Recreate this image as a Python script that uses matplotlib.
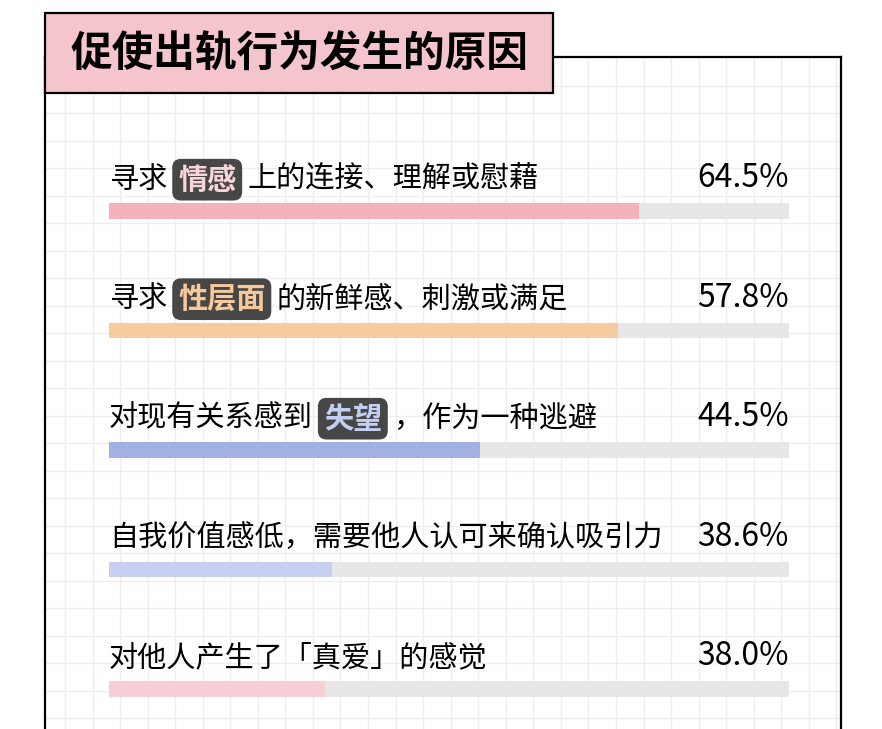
import matplotlib
matplotlib.use("Agg")
import matplotlib.pyplot as plt
import matplotlib.transforms as mtransforms
from matplotlib.patches import Rectangle
import numpy as np

plt.rcParams['font.family'] = ['Noto Sans CJK SC', 'DejaVu Sans']

title = "促使出轨行为发生的原因"
# each label is split as (before, highlighted word, after)
label_parts = [
    ("寻求", "情感", "上的连接、理解或慰藉"),
    ("寻求", "性层面", "的新鲜感、刺激或满足"),
    ("对现有关系感到", "失望", "，作为一种逃避"),
    ("自我价值感低，需要他人认可来确认吸引力", "", ""),
    ("对他人产生了「真爱」的感觉", "", ""),
]
percents = [64.5, 57.8, 44.5, 38.6, 38.0]
# filled share of each grey track, as drawn in the chart
bar_fill = [78.0, 74.9, 54.6, 32.8, 31.7]
bar_colors = ["#f4b2bb", "#f5cb9f", "#a3b0e2", "#c7d0ee", "#f8cfd7"]
highlight_colors = ["#f9d5da", "#f7c99a", "#c4cdf2", None, None]
label_weights = ["normal", "normal", "normal", "light", "light"]

W, H = 882, 729
fig = plt.figure(figsize=(W / 100, H / 100), dpi=100)
fig.patch.set_facecolor("white")

# grid paper background inside the frame
bg = fig.add_axes([45 / W, 0, 796 / W, 672 / H], zorder=-1)
bg.set_xlim(0, 796)
bg.set_ylim(672, 0)
bg.set_xticks(np.arange(20, 796, 27.55))
bg.set_yticks(np.arange(28.5, 672, 27.5))
bg.grid(True, color="#eeeeee", lw=1)
bg.tick_params(length=0, labelbottom=False, labelleft=False)
for side in ["left", "top", "right"]:
    bg.spines[side].set_color("black")
    bg.spines[side].set_linewidth(1.6)
bg.spines["bottom"].set_visible(False)

# bar axes: x in percent of track, y in rows
row0, row_h = 211, 119.5
top_px = 140
ax = fig.add_axes([109 / W, 0, 680 / W, (H - top_px) / H])
ax.set_xlim(0, 100)
ax.set_ylim((H - row0) / row_h, (top_px - row0) / row_h)
ax.axis("off")
ax.patch.set_visible(False)

rows = np.arange(len(percents))
ax.barh(rows, [100] * len(rows), height=0.126, color="#e7e7e7", zorder=1)
ax.barh(rows, bar_fill, height=0.126, color=bar_colors, zorder=2)

renderer = fig.canvas.get_renderer()
fs = 21
pad = 0.2
pad_px = pad * fs * 100 / 72
gap = 5

for i, (pre, hi, post) in enumerate(label_parts):
    y = i - 0.262
    dx = 0
    w = label_weights[i]
    t = ax.text(0, y, pre, fontsize=fs, weight=w, va="center", ha="left",
                transform=mtransforms.offset_copy(ax.transData, fig=fig, x=dx, y=0, units="dots"))
    dx += t.get_window_extent(renderer).width
    if hi:
        dx += gap + pad_px
        t = ax.text(0, y, hi, fontsize=fs, weight="bold", va="center", ha="left",
                    color=highlight_colors[i],
                    bbox=dict(boxstyle=f"round,pad={pad},rounding_size=0.3", fc="#474747", ec="none"),
                    transform=mtransforms.offset_copy(ax.transData, fig=fig, x=dx, y=0, units="dots"))
        dx += t.get_window_extent(renderer).width + pad_px + gap
        ax.text(0, y, post, fontsize=fs, weight=w, va="center", ha="left",
                transform=mtransforms.offset_copy(ax.transData, fig=fig, x=dx, y=0, units="dots"))
    ax.text(100, y - 0.01, f"{percents[i]:.1f}%", fontsize=23, weight="light", va="center", ha="right")

# title box
fig.add_artist(Rectangle((45 / W, 1 - 93 / H), 508 / W, 80 / H, transform=fig.transFigure,
                         fc="#f5c5cd", ec="black", lw=1.6, zorder=5))
fig.text(299 / W, 1 - 55 / H, title, fontsize=30, weight="heavy", ha="center", va="center", zorder=6)

fig.savefig("out.png", dpi=100)
